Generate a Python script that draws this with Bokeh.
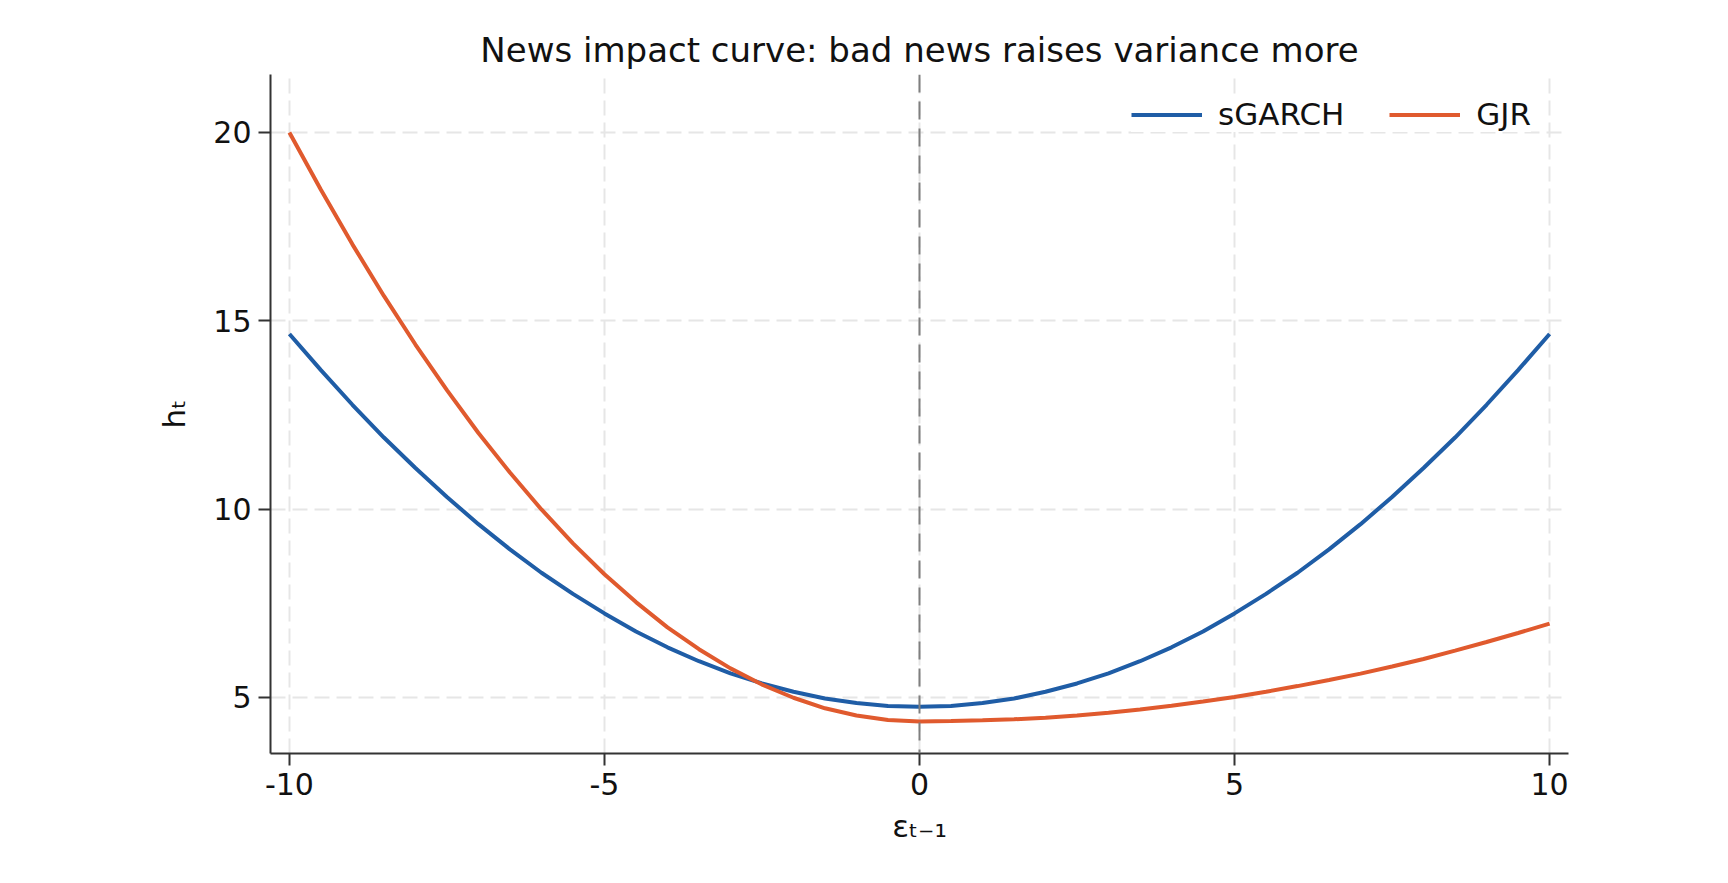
from bokeh.plotting import figure
from bokeh.models import Span, Range1d, FixedTicker
from bokeh.embed import file_html
from bokeh.resources import INLINE

# Data
eps = [-10, -9.5, -9, -8.5, -8, -7.5, -7, -6.5, -6, -5.5, -5, -4.5, -4, -3.5, -3, -2.5, -2, -1.5, -1, -0.5,
       0, 0.5, 1, 1.5, 2, 2.5, 3, 3.5, 4, 4.5, 5, 5.5, 6, 6.5, 7, 7.5, 8, 8.5, 9, 9.5, 10]
sgarch = [14.65, 13.69, 12.77, 11.90, 11.09, 10.32, 9.60, 8.93, 8.31, 7.75, 7.23, 6.75, 6.33, 5.96, 5.64,
          5.37, 5.15, 4.97, 4.85, 4.77,
          4.75,
          4.77, 4.85, 4.97, 5.15, 5.37, 5.64, 5.96, 6.33, 6.75, 7.23, 7.75, 8.31, 8.93, 9.60, 10.32,
          11.09, 11.90, 12.77, 13.69, 14.65]
gjr = [20.00, 18.48, 17.03, 15.66, 14.37, 13.16, 12.02, 10.97, 9.99, 9.09, 8.27, 7.53, 6.86, 6.28, 5.77,
       5.34, 4.99, 4.71, 4.52, 4.40,
       4.36,
       4.37, 4.39, 4.42, 4.46, 4.52, 4.59, 4.68, 4.78, 4.89, 5.01, 5.15, 5.30, 5.46, 5.63, 5.82,
       6.02, 6.24, 6.47, 6.71, 6.96]
x_ticks = [-10, -5, 0, 5, 10]
x_tick_labels = ["-10", "-5", "0", "5", "10"]
y_ticks = [5, 10, 15, 20]
y_tick_labels = ["5", "10", "15", "20"]
zero_line = 0

FONT = "DejaVu Sans"
BLUE = "#1f5da6"
ORANGE = "#e05a2e"

p = figure(width=1710, height=865, output_backend="svg", toolbar_location=None,
           x_range=Range1d(-10.3, 10.3), y_range=Range1d(3.51, 21.54),
           min_border_left=270, min_border_right=142, min_border_top=74, min_border_bottom=112,
           title="News impact curve: bad news raises variance more")

p.outline_line_color = None
p.background_fill_color = "white"
p.border_fill_color = "white"

p.title.text_font = FONT
p.title.text_font_size = "34px"
p.title.text_font_style = "normal"
p.title.text_color = "#111111"
p.title.align = "center"
p.title.standoff = 10

for ax, ticks, labels in ((p.xaxis, x_ticks, x_tick_labels), (p.yaxis, y_ticks, y_tick_labels)):
    ax.ticker = FixedTicker(ticks=ticks)
    ax.major_label_overrides = {t: s for t, s in zip(ticks, labels)}
    ax.major_label_text_font = FONT
    ax.major_label_text_font_size = "30px"
    ax.major_label_text_color = "#111111"
    ax.axis_label_text_font = FONT
    ax.axis_label_text_font_size = "31px"
    ax.axis_label_text_font_style = "normal"
    ax.axis_label_text_color = "#111111"
    ax.axis_line_color = "#333333"
    ax.axis_line_width = 2
    ax.major_tick_line_color = "#333333"
    ax.major_tick_line_width = 2
    ax.major_tick_out = 12
    ax.major_tick_in = 0
    ax.minor_tick_line_color = None
    ax.major_label_standoff = 7

p.xaxis.axis_label = "εₜ₋₁"
p.yaxis.axis_label = "hₜ"
p.xaxis.axis_label_standoff = 10
p.yaxis.axis_label_standoff = 18

for g in (p.xgrid, p.ygrid):
    g.grid_line_color = "#e6e6e6"
    g.grid_line_width = 2
    g.grid_line_dash = "15 7"
p.xgrid.ticker = FixedTicker(ticks=x_ticks)
p.ygrid.ticker = FixedTicker(ticks=y_ticks)

vline = Span(location=zero_line, dimension="height", line_color="#7f7f7f",
             line_width=2, line_dash="18 9")
p.add_layout(vline)

p.line(eps, sgarch, line_color=BLUE, line_width=4, legend_label="sGARCH")
p.line(eps, gjr, line_color=ORANGE, line_width=4, legend_label="GJR")

lg = p.legend[0]
lg.location = (861, 621)
lg.orientation = "horizontal"
lg.label_text_font = FONT
lg.label_text_font_size = "31px"
lg.label_text_color = "#111111"
lg.border_line_color = None
lg.background_fill_color = "white"
lg.background_fill_alpha = 1.0
lg.glyph_width = 71
lg.glyph_height = 31
lg.label_height = 31
lg.label_standoff = 16
lg.spacing = 45
lg.padding = 13
lg.margin = 0

open("out.html", "w").write(file_html(p, INLINE))
